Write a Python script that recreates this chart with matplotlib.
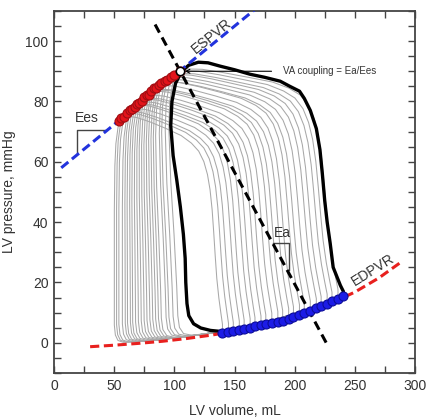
import numpy as np
import matplotlib
matplotlib.use('Agg')
import matplotlib.pyplot as plt

plt.rcParams['font.family'] = ['Liberation Sans', 'DejaVu Sans']

# EDPVR (end-diastolic pressure-volume relation)
edpvr_v = [30, 50, 70, 90, 110, 130, 150, 170, 190, 210, 230, 250, 270, 290]
edpvr_p = [-1.3, -0.8, -0.2, 0.5, 1.4, 2.5, 3.8, 5.5, 7.5, 10.0, 13.1, 16.8, 21.5, 27.2]

# ESPVR and arterial elastance (Ea) lines, end points
espvr_v = [6, 167]
espvr_p = [58, 110.5]
ea_v = [84, 226.5]
ea_p = [105.5, -0.2]

# baseline (bold) loop, counter-clockwise from end-diastole
bold_v = [240, 240.5, 238, 236, 232, 229.5, 227, 225, 223, 221, 218, 213, 208, 204,
          196, 188, 175, 163, 150, 138, 128, 120, 112, 106,
          101, 98, 97, 99, 102, 105, 107.5, 109, 109.5, 110.5, 112, 116, 122,
          130, 140, 150, 165, 177, 190, 200, 213, 225, 235, 240]
bold_p = [15.5, 17, 19, 21, 25, 33, 40, 47, 56, 64, 71, 77, 81, 83.4,
          85, 86.7, 88, 89, 90.5, 91.7, 92.8, 93, 92, 90,
          86, 80, 72, 62, 54, 45, 36, 28, 20, 13, 9, 6.3, 4.9,
          4.1, 3.7, 3.8, 4.6, 5.5, 6.8, 8.0, 9.8, 11.8, 14, 15.5]

# occlusion loops: end-diastolic (blue) and end-systolic (red) points
loop_edv = [140, 145, 149, 154, 158, 163, 167, 172, 176, 181, 186, 190,
            195, 199, 204, 208, 213, 218, 222, 227, 231, 236]
loop_edp = [3.3, 3.6, 3.9, 4.3, 4.6, 5.0, 5.4, 5.8, 6.1, 6.5, 7.0, 7.3,
            7.8, 8.4, 9.2, 9.9, 10.6, 11.4, 12.2, 13.0, 13.8, 14.6]
loop_esv = [54, 56, 58, 61, 63, 65, 67, 69, 71, 73, 75, 77,
            79, 81, 83, 85, 87, 89, 92, 94, 97, 100]
loop_esp = [73.5, 74.5, 75.0, 76.0, 77.2, 77.5, 78.2, 79.0, 79.4, 80.3, 81.6, 82.0,
            82.2, 83.4, 84.6, 84.5, 85.3, 86.0, 86.8, 87.2, 88.0, 88.6]
# how far each loop's relaxation limb drifts right towards the bottom (mL)
loop_lean = [0, 0, 0, 0, 0.5, 0.5, 1, 1, 1.5, 2, 2.5, 3,
             3.5, 4, 4.5, 5, 5.5, 6, 7, 7.5, 8, 9]
bold_ed = (240, 15.5)
bold_es = (105, 90)

# loop outline in relative units (0 = end-systole, 1 = end-diastole)
shape_u = [1.0, 1.0, 0.985, 0.965, 0.945, 0.93, 0.915, 0.9, 0.88, 0.855, 0.82, 0.77,
           0.70, 0.60, 0.45, 0.30, 0.17, 0.07, 0.02, 0.0,
           -0.01, -0.03, -0.04, -0.045, -0.045, -0.045, -0.045, -0.035, -0.01,
           0.04, 0.15, 0.4, 0.7, 1.0]
shape_q = [0.01, 0.04, 0.09, 0.16, 0.25, 0.35, 0.46, 0.56, 0.65, 0.72, 0.78, 0.83,
           0.87, 0.91, 0.95, 0.985, 1.01, 1.02, 1.012, 1.0,
           0.97, 0.9, 0.8, 0.6, 0.4, 0.2, 0.09, 0.045, 0.02,
           0.01, 0.008, 0.008, 0.008, 0.01]
shape_w = [0, 0, 0, 0, 0, 0, 0, 0, 0, 0, 0, 0,
           0, 0, 0, 0, 0, 0, 0, 0,
           0, 0.02, 0.1, 0.35, 0.65, 0.9, 1, 1, 1,
           1, 0.8, 0.3, 0, 0]

fig = plt.figure(figsize=(4.27, 4.20), dpi=100)
ax = fig.add_axes([0.1265, 0.112, 0.8454, 0.862])

su = np.array(shape_u)
sq = np.array(shape_q)
sw = np.array(shape_w)
for edv, esv, esp, lean in zip(loop_edv, loop_esv, loop_esp, loop_lean):
    v = esv + su * (edv - esv) + lean * sw
    base = np.interp(v, edpvr_v, edpvr_p)
    p = base + sq * (esp - np.interp(esv, edpvr_v, edpvr_p))
    ax.plot(v, p, color='#a8a8a8', lw=0.75, zorder=1)

ax.plot(bold_v, bold_p, color='black', lw=2.4, zorder=3, solid_joinstyle='round')

ax.plot(edpvr_v, edpvr_p, color='#e8201e', lw=2.2, dashes=(3, 1.5), zorder=4)
ax.plot(espvr_v, espvr_p, color='#2233dd', lw=2.2, dashes=(3, 1.5), zorder=4)
ax.plot(ea_v, ea_p, color='black', lw=2.2, dashes=(3, 1.8), zorder=4)

ax.plot(loop_esv + [bold_es[0]], loop_esp + [bold_es[1]], 'o', ms=6.5,
        mfc='#e3141b', mec='#a00d12', mew=0.8, zorder=5)
ax.plot(loop_edv + [bold_ed[0]], loop_edp + [bold_ed[1]], 'o', ms=6.5,
        mfc='#1c1ce6', mec='#0c0c99', mew=0.8, zorder=5)
ax.plot([bold_es[0]], [bold_es[1]], 'o', ms=6, mfc='white', mec='black', mew=1.1, zorder=6)

ax.annotate('VA coupling = Ea/Ees', xy=(107.5, 90), xytext=(190, 90),
            ha='left', va='center', fontsize=7, color='#333333',
            arrowprops=dict(arrowstyle='->', color='black', lw=0.8,
                            shrinkA=6, shrinkB=1), zorder=7)

ax.text(131, 101.6, 'ESPVR', rotation=39, ha='center', va='center',
        fontsize=10, color='#333333')
ax.text(265, 24, 'EDPVR', rotation=32, ha='center', va='center',
        fontsize=10, color='#333333')
ax.text(27, 74.5, 'Ees', ha='center', va='center', fontsize=10, color='#333333')
ax.text(190, 36.5, 'Ea', ha='center', va='center', fontsize=10, color='#333333')
ax.plot([19.4, 19.4, 42.4], [63, 70.4, 70.4], color='#444444', lw=1, zorder=2)
ax.plot([182.3, 195.6, 195.6], [33, 33, 24.2], color='#444444', lw=1, zorder=2)

ax.set_xlim(0, 300)
ax.set_ylim(-10, 110)
ax.set_xticks(range(0, 301, 50))
ax.set_xticks(range(0, 301, 25), minor=True)
ax.set_yticks(range(0, 101, 20))
ax.set_yticks(range(-10, 111, 5), minor=True)
ax.tick_params(which='both', direction='in', top=True, right=True, length=5,
               width=1, color='#444444', labelcolor='#333333', labelsize=10, pad=4)
for s in ax.spines.values():
    s.set_linewidth(1.3)
    s.set_color('#444444')

ax.set_xlabel('LV volume, mL', fontsize=10, color='#333333')
ax.set_ylabel('LV pressure, mmHg', fontsize=10, color='#333333')
ax.xaxis.set_label_coords(0.5, -0.085)
ax.yaxis.set_label_coords(-0.105, 0.5)

fig.savefig('out.png', dpi=100)
